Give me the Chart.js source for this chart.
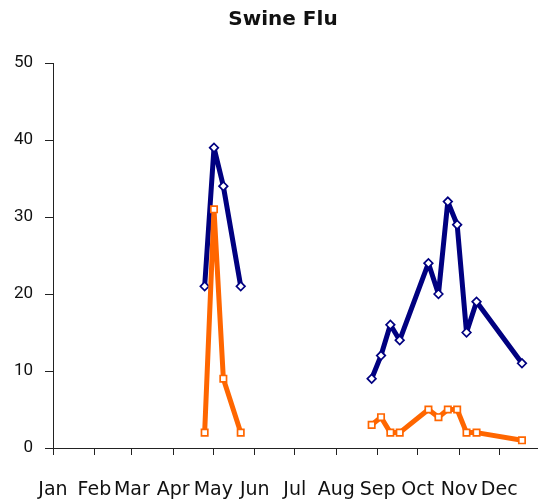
<!DOCTYPE html>
<html>
<head>
<meta charset="utf-8">
<title>Swine Flu</title>
<script src="https://cdn.jsdelivr.net/npm/chart.js@4.4.0/dist/chart.umd.min.js"></script>
<style>
  html, body { margin: 0; padding: 0; background: #fff; }
  #wrap { width: 538px; height: 502px; }
</style>
</head>
<body>
<div id="wrap"><canvas id="fluChart" width="538" height="502"></canvas></div>
<script>
// Month tick labels and their start day (days since Jan 1)
const monthLabels = ['Jan', 'Feb', 'Mar', 'Apr', 'May', 'Jun', 'Jul', 'Aug', 'Sep', 'Oct', 'Nov', 'Dec'];
const monthStarts = [0, 31, 59, 90, 120, 151, 181, 212, 243, 273, 304, 334];

// Report days (days since Jan 1), spring wave and autumn wave
const springDays = [113.5, 120.5, 127.5, 140.5];
const autumnDays = [238.5, 245.5, 252.5, 259.5, 281, 288.5, 295.5, 302.5, 309.5, 317, 351];

// Series values
const navySpring = [21, 39, 34, 21];
const navyAutumn = [9, 12, 16, 14, 24, 20, 32, 29, 15, 19, 11];
const orangeSpring = [2, 31, 9, 2];
const orangeAutumn = [3, 4, 2, 2, 5, 4, 5, 5, 2, 2, 1];

const yTicks = [0, 10, 20, 30, 40, 50];

// Build point list with a break between the two waves
function toPoints(spring, autumn) {
    const pts = springDays.map((d, i) => ({ x: d, y: spring[i] }));
    pts.push({ x: 190, y: null });
    autumnDays.forEach((d, i) => pts.push({ x: d, y: autumn[i] }));
    return pts;
}

// Title drawn over the plot
const titlePlugin = {
    id: 'plotTitle',
    afterDraw(chart) {
        const ctx = chart.ctx;
        ctx.save();
        ctx.font = 'bold 20px "DejaVu Sans"';
        ctx.fillStyle = '#111';
        ctx.textAlign = 'center';
        ctx.textBaseline = 'middle';
        ctx.fillText('Swine Flu', 283, 20);
        ctx.restore();
    }
};

const ctx = document.getElementById('fluChart').getContext('2d');
new Chart(ctx, {
    type: 'line',
    data: {
        datasets: [
            {
                label: 'Orange',
                data: toPoints(orangeSpring, orangeAutumn),
                borderColor: '#FF6600',
                backgroundColor: '#ffffff',
                borderWidth: 5,
                borderJoinStyle: 'round',
                pointStyle: 'rect',
                pointRadius: 4.5,
                pointBorderWidth: 1.7,
                pointBorderColor: '#FF6600',
                pointBackgroundColor: '#ffffff',
                tension: 0,
                spanGaps: false,
                order: 0
            },
            {
                label: 'Navy',
                data: toPoints(navySpring, navyAutumn),
                borderColor: '#000080',
                backgroundColor: '#ffffff',
                borderWidth: 5,
                borderJoinStyle: 'round',
                pointStyle: 'rectRot',
                pointRadius: 4.3,
                pointBorderWidth: 1.7,
                pointBorderColor: '#000080',
                pointBackgroundColor: '#ffffff',
                tension: 0,
                spanGaps: false,
                order: 1
            }
        ]
    },
    options: {
        responsive: false,
        animation: false,
        layout: { autoPadding: false, padding: { top: 63, right: 0, left: 0, bottom: 0 } },
        plugins: {
            legend: { display: false },
            title: { display: false },
            tooltip: { enabled: false }
        },
        scales: {
            x: {
                type: 'linear',
                min: 0,
                max: 363,
                afterBuildTicks: scale => {
                    scale.ticks = monthStarts.map(v => ({ value: v }));
                },
                afterFit: scale => {
                    scale.height = 54;
                    scale.paddingRight = 0;
                },
                grid: {
                    drawOnChartArea: false,
                    drawTicks: true,
                    tickLength: 7,
                    color: '#222',
                    lineWidth: 1
                },
                border: { color: '#222', width: 1 },
                ticks: {
                    autoSkip: false,
                    maxRotation: 0,
                    padding: 24,
                    color: '#111',
                    font: { family: '"DejaVu Sans"', size: 19 },
                    callback: (value, index) => monthLabels[index]
                }
            },
            y: {
                min: 0,
                max: 50,
                afterBuildTicks: scale => {
                    scale.ticks = yTicks.map(v => ({ value: v }));
                },
                afterFit: scale => { scale.width = 53; },
                grid: {
                    drawOnChartArea: false,
                    drawTicks: true,
                    tickLength: 8,
                    color: '#222',
                    lineWidth: 1
                },
                border: { color: '#222', width: 1 },
                ticks: {
                    padding: 12,
                    color: '#111',
                    font: { family: 'Roboto', size: 17 }
                }
            }
        }
    },
    plugins: [titlePlugin]
});
</script>
</body>
</html>
